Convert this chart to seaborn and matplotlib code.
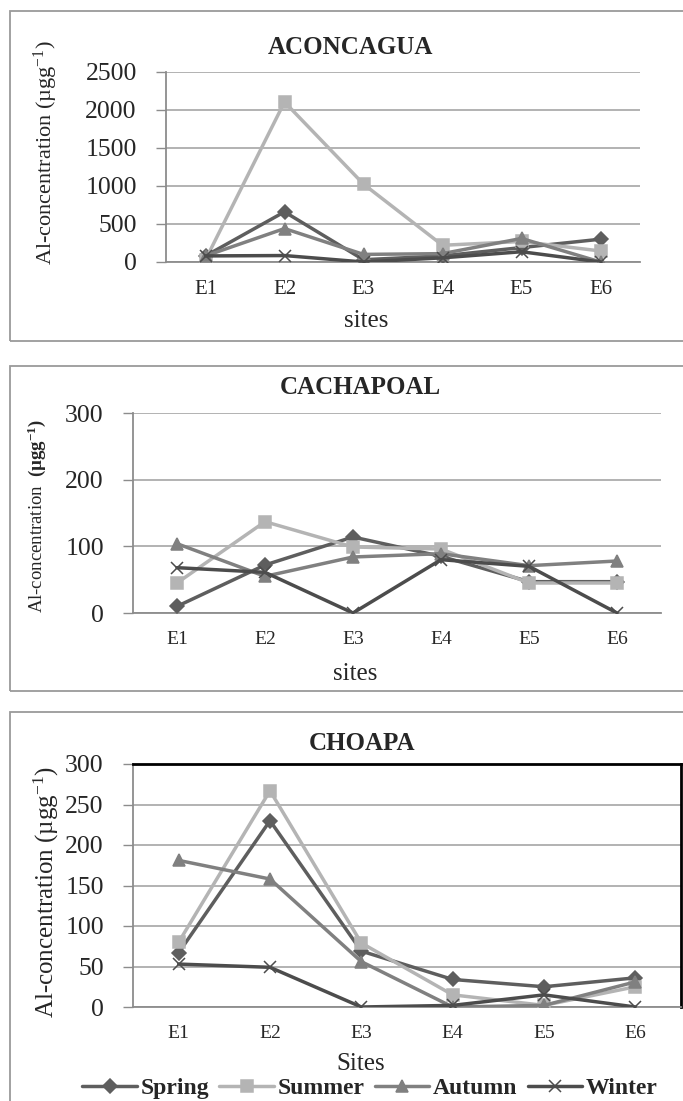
import matplotlib

matplotlib.use("Agg")

import matplotlib.pyplot as plt
import pandas as pd
import seaborn as sns
from matplotlib.lines import Line2D
from matplotlib.patches import Rectangle

W, H = 683, 1101

sites = ["E1", "E2", "E3", "E4", "E5", "E6"]
seasons = ["Spring", "Summer", "Autumn", "Winter"]

aconcagua_spring = [80, 660, 30, 80, 190, 300]
aconcagua_summer = [30, 2105, 1025, 220, 270, 145]
aconcagua_autumn = [80, 440, 100, 110, 310, 0]
aconcagua_winter = [80, 85, 0, 55, 135, 0]

cachapoal_spring = [10, 72, 114, 85, 47, 47]
cachapoal_summer = [45, 137, 99, 96, 45, 45]
cachapoal_autumn = [104, 55, 84, 89, 71, 78]
cachapoal_winter = [68, 61, 0, 80, 70, 0]

choapa_spring = [67, 230, 69, 34, 25, 36]
choapa_summer = [80, 267, 79, 15, 2, 25]
choapa_autumn = [181, 158, 56, 0, 2, 31]
choapa_winter = [53, 49, 0, 2, 15, 0]

colors = {"Spring": "#5e5e5e", "Summer": "#b4b4b4", "Autumn": "#808080", "Winter": "#4c4c4c"}
markers = {"Spring": "D", "Summer": "s", "Autumn": "^", "Winter": "x"}
msizes = {"Spring": 7, "Summer": 9, "Autumn": 9, "Winter": 8.5}


def long_df(values):
    rows = []
    for season, vals in zip(seasons, values):
        for site, v in zip(sites, vals):
            rows.append({"site": site, "season": season, "value": v})
    return pd.DataFrame(rows)


def fig_rect(left, top, right, bottom):
    return [left / W, 1 - bottom / H, (right - left) / W, (bottom - top) / H]


sns.set_theme(style="white")
plt.rcParams["font.family"] = ["Liberation Serif", "DejaVu Serif"]
plt.rcParams["mathtext.fontset"] = "custom"
plt.rcParams["mathtext.rm"] = "Liberation Serif"
plt.rcParams["mathtext.it"] = "Liberation Serif:italic"
plt.rcParams["mathtext.bf"] = "Liberation Serif:bold"

fig = plt.figure(figsize=(W / 100, H / 100), dpi=100)
fig.patch.set_facecolor("white")

# outer chart frames (right side runs off the canvas)
for top, bottom in [(11, 341), (366, 691), (712, 1110)]:
    fig.patches.append(Rectangle((10 / W, 1 - bottom / H), 690 / W, (bottom - top) / H,
                                 transform=fig.transFigure, fill=False,
                                 edgecolor="#9a9a9a", lw=1.3))

panels = [
    dict(name="ACONCAGUA", data=[aconcagua_spring, aconcagua_summer, aconcagua_autumn, aconcagua_winter],
         rect=(166, 72, 640, 262), ymax=2500, step=500, title=(350, 48), xlab=("sites", 366, 321),
         ylab=("Al-concentration (µgg$^{-1}$)", 46, 153, 16), xt=15),
    dict(name="CACHAPOAL", data=[cachapoal_spring, cachapoal_summer, cachapoal_autumn, cachapoal_winter],
         rect=(133, 413, 661, 613), ymax=300, step=100, title=(360, 388), xlab=("sites", 355, 674),
         ylab=(r"Al-concentration  $\mathbf{(µgg^{-1})}$", 37, 516, 13.5), xt=14),
    dict(name="CHOAPA", data=[choapa_spring, choapa_summer, choapa_autumn, choapa_winter],
         rect=(133, 764, 681, 1007), ymax=300, step=50, title=(362, 743), xlab=("Sites", 361, 1064),
         ylab=("Al-concentration (µgg$^{-1}$)", 46, 892, 18), xt=14),
]

for i, p in enumerate(panels):
    ax = fig.add_axes(fig_rect(*p["rect"]))
    df = long_df(p["data"])
    for z, season in enumerate(seasons):
        sub = df[df["season"] == season]
        sns.lineplot(data=sub, x="site", y="value", color=colors[season], marker=markers[season],
                     markersize=msizes[season], markeredgecolor=colors[season],
                     markeredgewidth=1.1, lw=2.5, sort=False, ax=ax, zorder=3 + z)
    ax.set_xlim(-0.5, 5.5)
    ax.set_ylim(0, p["ymax"])
    ax.set_yticks(range(0, p["ymax"] + 1, p["step"]))
    ax.yaxis.grid(True, color="#a6a6a6", lw=1.2)
    ax.set_axisbelow(True)
    ax.set_xticks(range(6))
    ax.set_xticklabels(sites)
    ax.set_xticks([k - 0.5 for k in range(7)], minor=True)
    ax.tick_params(axis="x", which="major", length=0, pad=13, labelsize=p["xt"])
    ax.tick_params(axis="x", which="minor", length=6, width=1, color="#8c8c8c", direction="out")
    ax.tick_params(axis="y", length=7, width=1, color="#8c8c8c", direction="out",
                   pad=14, labelsize=18.5, left=True)
    ax.set_xlabel("")
    ax.set_ylabel("")
    for side in ["left", "bottom"]:
        ax.spines[side].set_color("#8c8c8c")
        ax.spines[side].set_linewidth(1.3)
    if i == 2:
        for side in ["top", "right"]:
            ax.spines[side].set_color("black")
            ax.spines[side].set_linewidth(2)
    else:
        ax.spines["top"].set_visible(False)
        ax.spines["right"].set_visible(False)

    fig.text(p["title"][0] / W, 1 - p["title"][1] / H, p["name"], ha="center", va="center",
             fontsize=18, fontweight="bold")
    lab, lx, ly = p["xlab"]
    fig.text(lx / W, 1 - ly / H, lab, ha="center", va="center", fontsize=18)
    ytxt, yx, yy, ys = p["ylab"]
    fig.text(yx / W, 1 - yy / H, ytxt, ha="center", va="center", rotation=90, fontsize=ys)

handles = [Line2D([], [], color=colors[s], marker=markers[s], markersize=msizes[s],
                  markeredgecolor=colors[s], markeredgewidth=1.1, lw=2.5) for s in seasons]
fig.legend(handles, seasons, loc="center", bbox_to_anchor=(370 / W, 1 - 1088 / H), ncol=4,
           frameon=False, prop={"weight": "bold", "size": 17}, handlelength=2.3,
           handletextpad=0.15, columnspacing=0.45, borderaxespad=0)

fig.savefig("out.png", dpi=100, facecolor="white")
plt.close(fig)
